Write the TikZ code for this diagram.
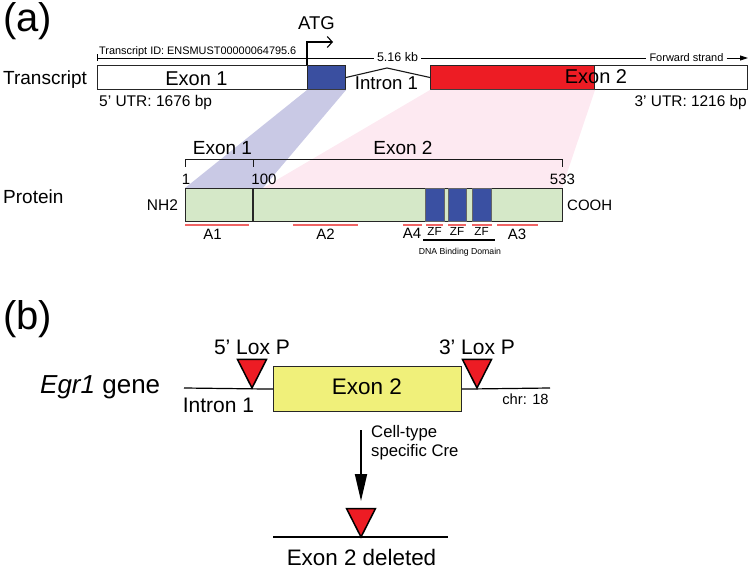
\documentclass[tikz,border=0pt]{standalone}
\usepackage{fontspec}
\setmainfont{Liberation Sans}
\usetikzlibrary{arrows.meta}
\newcommand\fsz[1]{\fontsize{#1}{#1}\selectfont}
\definecolor{exblue}{HTML}{3A4FA0}
\definecolor{exred}{HTML}{ED1C24}
\definecolor{lavband}{HTML}{C9C9E5}
\definecolor{pinkband}{HTML}{FDE9F1}
\definecolor{protgreen}{HTML}{D5E8C8}
\definecolor{zfblue}{HTML}{3A50A2}
\definecolor{aline}{HTML}{F06464}
\definecolor{exyellow}{HTML}{F0F07A}
\begin{document}
\begin{tikzpicture}[x=1pt,y=-1pt,
  txt/.style={inner sep=0pt, anchor=base},
  txtl/.style={inner sep=0pt, anchor=base west},
  txtr/.style={inner sep=0pt, anchor=base east},
  box/.style={draw=black!85, line width=1pt, inner sep=0pt, anchor=north west},
  thinline/.style={line width=1.1pt, draw=black!90},
  bracket/.style={line width=1pt, draw=black!90},
  redbar/.style={line width=1.3pt, draw=aline},
  tri/.style={draw=black, line width=1.5pt, fill=exred, line join=miter}]
\useasboundingbox (0,0) rectangle (750,569);

% ---------- (a) ----------
\node[txtl] (la) at (3,32) {\fsz{40}(a)};
\node[txtl] (ltrans) at (3,85) {\fsz{19}Transcript};
\node[txtl] (lprot) at (3,204) {\fsz{19}Protein};

% transcript boxes
\node[box, fill=white, minimum width=210, minimum height=24] (ex1utr) at (97,65) {};
\node[box, fill=exblue, minimum width=38, minimum height=24] (ex1cds) at (307,65) {};
\node[box, fill=exred, minimum width=164, minimum height=24] (ex2cds) at (430,65) {};
\node[box, fill=white, minimum width=153, minimum height=24] (ex2utr) at (594,65) {};

\node[txt] (tex1) at (196.5,86) {\fsz{20}Exon 1};
\node[txt] (tex2) at (596,84) {\fsz{20}Exon 2};
\node[txt] (tint) at (386.5,90) {\fsz{18.6}Intron 1};
\node[txtl] (utr5) at (99,107) {\fsz{15.5}5’ UTR: 1676 bp};
\node[txtr] (utr3) at (747,107) {\fsz{15.4}3’ UTR: 1216 bp};

% intron connector
\coordinate (ipeak) at (387,68);
\draw[thinline] (ex1cds.east) -- (ipeak) -- (ex2cds.west);

% transcript ID line
\node[txtl] (tid) at (99,55) {\fsz{10.9}Transcript ID: ENSMUST00000064795.6};
\node[txt, inner xsep=3pt] (n516) at (397.5,62) {\fsz{12.5}5.16 kb};
\node[txt, inner xsep=3pt] (nfwd) at (686.5,62) {\fsz{11}Forward strand};
\coordinate (tl) at (97,58);
\coordinate (tr) at (748,58);
\draw[line width=0.9pt] ([yshift=3.5pt]tl) -- ([yshift=-3.5pt]tl);
\draw[line width=0.9pt] (tl) -- (tl -| n516.west);
\draw[line width=0.9pt] (tl -| n516.east) -- (tl -| nfwd.west);
\draw[line width=0.9pt, -{Triangle[length=8pt,width=5pt]}] (tl -| nfwd.east) -- (tr);

% ATG arrow
\node[txt] (atg) at (316.5,30) {\fsz{18.5}ATG};
\coordinate (atgtip) at (333,42);
\draw[line width=1.1pt, -{Straight Barb[length=5pt,width=11pt]}] (ex1cds.north west) |- (atgtip);

% shaded bands
\coordinate (b100) at (263,188);
\fill[pinkband] (ex2cds.south west) -- (ex2cds.south east) -- (562,188) -- (b100) -- cycle;
\fill[lavband] (ex1cds.south west) -- (ex1cds.south east) -- (b100) -- (185,188) -- cycle;

% protein
\node[box, fill=protgreen, minimum width=68, minimum height=33] (pe1) at (185,188) {};
\node[box, fill=protgreen, minimum width=309, minimum height=33] (pe2) at (253,188) {};
\node[box, fill=zfblue, draw=black!60, minimum width=19, minimum height=33] (zf1) at (425,188) {};
\node[box, fill=zfblue, draw=black!60, minimum width=18, minimum height=33] (zf2) at (448,188) {};
\node[box, fill=zfblue, draw=black!60, minimum width=19, minimum height=33] (zf3) at (472,188) {};
\draw[line width=1.2pt, draw=black!85] (pe2.north west) -- (pe2.south west);

\node[txt] (pex1) at (222.5,155) {\fsz{19}Exon 1};
\node[txt] (pex2) at (403,155) {\fsz{19}Exon 2};
\draw[bracket] (185,167) |- (253,160) -- (253,167);
\draw[bracket] (253,160) -- (562,160) -- (562,167);
\node[txt] (n1) at (186,185) {\fsz{15}1};
\node[txt] (n100) at (264,185) {\fsz{15}100};
\node[txt] (n533) at (562.5,185) {\fsz{15}533};
\node[txt] (nh2) at (162.5,211) {\fsz{15.5}NH2};
\node[txtl] (cooh) at (567,211) {\fsz{15}COOH};

% domain bars
\draw[redbar] (185,225) -- (249,225);
\draw[redbar] (293,225) -- (358,225);
\draw[redbar] (403,225) -- (422,225);
\draw[redbar] (426,225) -- (443,225);
\draw[redbar] (448,225) -- (466,225);
\draw[redbar] (472,225) -- (492,225);
\draw[redbar] (497,225) -- (538,225);
\node[txt] (a1) at (212.5,240) {\fsz{15}A1};
\node[txt] (a2) at (325.5,240) {\fsz{15}A2};
\node[txt] (a4) at (412,239) {\fsz{15}A4};
\node[txt] (a3) at (517,240) {\fsz{15}A3};
\node[txt] (zfl1) at (434.5,236) {\fsz{11.7}ZF};
\node[txt] (zfl2) at (457,236) {\fsz{11.7}ZF};
\node[txt] (zfl3) at (481.5,236) {\fsz{11.7}ZF};
\draw[line width=1.1pt] (423,240) -- (495,240);
\node[txt] (dbd) at (460,255) {\fsz{8.7}DNA Binding Domain};

% ---------- (b) ----------
\node[txtl] (lb) at (3,330) {\fsz{40}(b)};
\node[txtl] (egr) at (40,394) {\fsz{26}\textit{Egr1} gene};
\node[box, fill=exyellow, line width=1.2pt, minimum width=188, minimum height=45] (yex) at (273,366) {};
\node[txt] (yext) at (367,395) {\fsz{22.5}Exon 2};
\coordinate (gl) at (184,388);
\coordinate (gr) at (550,388);
\draw[line width=1.2pt] (gl) -- (yex.west);
\draw[line width=1.2pt] (yex.east) -- (gr);
\coordinate (lox5) at (252,388);
\coordinate (lox3) at (477,388);
\draw[tri] (lox5) -- ++(-14.5,-28.5) -- ++(29,0) -- cycle;
\draw[tri] (lox3) -- ++(-14.5,-28.5) -- ++(29,0) -- cycle;
\node[txt] (l5) at (252,355) {\fsz{21}5’ Lox P};
\node[txt] (l3) at (477,355) {\fsz{21}3’ Lox P};
\node[txt] (intb) at (218.5,412) {\fsz{21}Intron 1};
\node[txt] (chr) at (525.5,404) {\fsz{14.7}chr: 18};

\coordinate (cre1) at (361,430);
\coordinate (cre2) at (361,501);
\draw[line width=1.8pt, -{Triangle[length=27pt,width=12pt]}] (cre1) -- (cre2);
\node[txtl] (cre1t) at (371,437.5) {\fsz{16.7}Cell-type};
\node[txtl] (cre2t) at (371,456) {\fsz{16.7}specific Cre};

\coordinate (dl) at (273,537);
\coordinate (dr) at (448,537);
\draw[line width=1.2pt] (dl) -- (dr);
\coordinate (loxd) at (361,537);
\draw[tri] (loxd) -- ++(-14.5,-28.5) -- ++(29,0) -- cycle;
\node[txt] (del) at (361.5,565) {\fsz{22.4}Exon 2 deleted};
\end{tikzpicture}
\end{document}
